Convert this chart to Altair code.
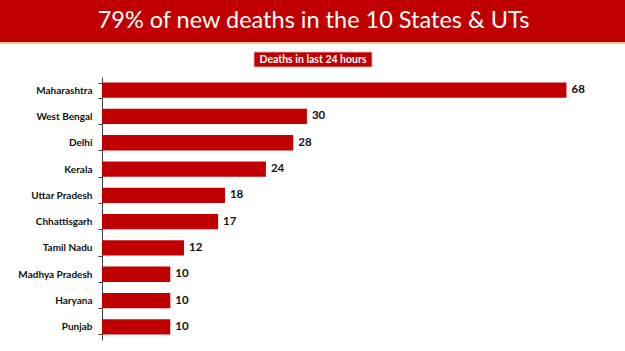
import altair as alt
import pandas as pd

states = ["Maharashtra", "West Bengal", "Delhi", "Kerala", "Uttar Pradesh",
          "Chhattisgarh", "Tamil Nadu", "Madhya Pradesh", "Haryana", "Punjab"]
deaths = [68, 30, 28, 24, 18, 17, 12, 10, 10, 10]
title_text = "79% of new deaths in the 10 States & UTs"
subtitle_text = "Deaths in last 24 hours"

RED = "#C00000"
df = pd.DataFrame({"state": states, "deaths": deaths})

W, H = 500, 263
LEFT, TOP = 102, 77

y_enc = alt.Y("state:N", sort=None, title=None,
              scale=alt.Scale(paddingInner=0.42, paddingOuter=0.21),
              axis=alt.Axis(domainColor="#404040", tickColor="#404040",
                            tickBand="extent", tickSize=4, labelPadding=6,
                            labelFont="Lato", labelFontWeight="bold",
                            labelFontSize=10, labelColor="#111111"))
x_enc = alt.X("deaths:Q", title=None, scale=alt.Scale(domain=[0, 73.2]),
              axis=None)

base = alt.Chart(df)
bars = base.mark_bar(color=RED).encode(x=x_enc, y=y_enc)
labels = base.mark_text(align="left", baseline="middle", dx=5, font="Lato",
                        fontWeight="bold", fontSize=11.5, color="#111111").encode(
    x=x_enc, y=y_enc, text="deaths:Q")

one = alt.Data(values=[{"a": 1}])
band = alt.Chart(one).mark_rect(color=RED).encode(
    x=alt.value(-LEFT), x2=alt.value(625 - LEFT),
    y=alt.value(-TOP), y2=alt.value(42 - TOP))
orange = alt.Chart(one).mark_rule(color="#F4B183", strokeWidth=1.5).encode(
    x=alt.value(-LEFT), x2=alt.value(625 - LEFT), y=alt.value(43 - TOP))
title = alt.Chart(one).mark_text(font="Lato", fontSize=23.5, color="white",
                                 align="center", baseline="middle").encode(
    x=alt.value(313.5 - LEFT), y=alt.value(21 - TOP), text=alt.value(title_text))
subbox = alt.Chart(one).mark_rect(color=RED, stroke="#F2B8B8", strokeWidth=0.8).encode(
    x=alt.value(254 - LEFT), x2=alt.value(372 - LEFT),
    y=alt.value(52 - TOP), y2=alt.value(67 - TOP))
subtitle = alt.Chart(one).mark_text(font="Lato", fontSize=10.5, fontWeight="bold",
                                    color="white", align="center",
                                    baseline="middle").encode(
    x=alt.value(313 - LEFT), y=alt.value(59.5 - TOP), text=alt.value(subtitle_text))

chart = alt.layer(band, orange, title, subbox, subtitle, bars, labels).properties(
    width=W, height=H,
    autosize=alt.AutoSizeParams(type="none"),
    padding={"left": LEFT, "top": TOP, "right": 625 - LEFT - W, "bottom": 351 - TOP - H},
    background="white",
).configure_view(stroke=None)

chart.save("out.html", embed_options={"renderer": "svg", "actions": False})
